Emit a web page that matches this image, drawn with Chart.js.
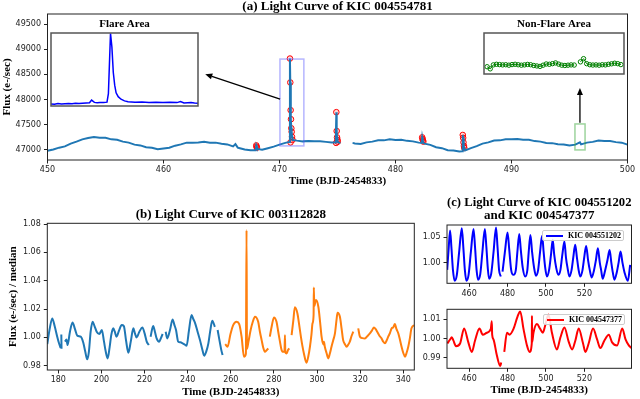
<!DOCTYPE html>
<html>
<head>
<meta charset="utf-8">
<script src="https://cdn.jsdelivr.net/npm/chart.js@4.4.1/dist/chart.umd.min.js"></script>
<style>
  body { margin: 0; background: #fff; }
  #wrap { position: relative; width: 640px; height: 399px; overflow: hidden; background: #fff; }
  canvas { position: absolute; }
  .legend {
    position: absolute; box-sizing: border-box; width: 82px; height: 11px;
    border: 1px solid #ccc; border-radius: 2px; background: rgba(255,255,255,0.85);
    font: bold 8px 'Liberation Serif', 'Times New Roman', serif; line-height: 9px;
    color: #000; white-space: nowrap; padding-left: 3px;
  }
  .legend .swatch { display: inline-block; width: 17px; height: 2px; vertical-align: middle; margin-right: 5px; margin-top: -1px; }
</style>
</head>
<body>
<div id="wrap">
  <canvas id="chartA" width="640" height="190" style="left:0;top:0"></canvas>
  <canvas id="flareInset" width="151" height="92" style="left:49px;top:16px"></canvas>
  <canvas id="quietInset" width="150" height="63" style="left:479px;top:16px"></canvas>
  <canvas id="chartB" width="420" height="209" style="left:0;top:190px"></canvas>
  <canvas id="chartC1" width="220" height="110" style="left:420px;top:190px"></canvas>
  <canvas id="chartC2" width="220" height="99" style="left:420px;top:300px"></canvas>
  <div class="legend" style="left:542px;top:230px"><span class="swatch" style="background:#0000ff"></span>KIC 004551202</div>
  <div class="legend" style="left:543px;top:314px"><span class="swatch" style="background:#ff0000"></span>KIC 004547377</div>
</div>
<script>
// ---- data: panel (a) KIC 004554781 ----
const timeA = [450.0, 450.5, 451.0, 451.5, 452.0, 452.5, 453.0, 453.5, 454.0, 454.5, 455.0, 455.5, 456.0, 456.5, 457.0, 457.5,
  458.0, 458.5, 459.0, 459.5, 460.0, 460.5, 461.0, 461.5, 462.0, 462.5, 463.0, 463.5, 464.0, 464.5, 465.0, 465.5,
  466.0, 466.2, 466.4, 466.5, 467.0, 467.5, 467.95, 468.0, 468.05, 468.1, 468.5, 469.0, 469.5, 470.0, 470.5,
  470.85, 470.9, 470.93, 470.96, 470.99, 471.02, 471.05, 471.08, 471.12, 471.5, 472.0, 472.5, 473.0, 473.5, 474.0, 474.5,
  474.85, 474.9, 474.93, 474.96, 475.0, 475.1, 475.25, 475.7, 476.3, 476.5, 477.0, 477.5, 478.0, 478.5, 479.0, 479.5,
  480.0, 480.5, 481.0, 481.5, 482.0, 482.25, 482.3, 482.33, 482.36, 482.4, 482.5, 483.0, 483.5, 484.0, 484.5, 485.0, 485.5,
  485.75, 485.8, 485.83, 485.86, 485.9, 485.95, 486.0, 486.5, 487.0, 487.5, 488.0, 488.5, 489.0, 489.5, 490.0, 490.5,
  491.0, 491.5, 492.0, 492.5, 493.0, 493.5, 494.0, 494.5, 495.0, 495.5, 495.9, 496.0, 496.5, 497.0, 497.5, 498.0, 498.5,
  499.0, 499.5, 500.0];
const fluxA = [46985, 47010, 47045, 47070, 47125, 47165, 47210, 47235, 47255, 47240, 47240, 47210, 47200, 47165, 47145, 47105,
  47090, 47055, 47045, 47015, 47030, 47045, 47085, 47110, 47145, 47145, 47150, 47160, 47145, 47145, 47125, 47110,
  47070, 47115, 47045, 47040, 47010, 46995, 46995, 47090, 47060, 47020, 47005, 47035, 47065, 47105, 47140,
  47160, 48815, 48340, 47790, 47610, 47430, 47360, 47260, 47200, 47185, 47170, 47175, 47170, 47170, 47160, 47150,
  47150, 47750, 47376, 47250, 47164, 47145, 47140, null, 47140, 47130, 47120, 47150, 47165, 47190, 47190, 47210,
  47195, 47200, 47180, 47170, 47145, 47140, 47250, 47220, 47190, 47145, 47125, 47100, 47055, 47035, 46995, 46990, 46970,
  46975, 47297, 47240, 47150, 47080, 47020, 46990, 47035, 47075, 47125, 47150, 47185, 47190, 47210, 47210, 47215,
  47200, 47200, 47175, 47165, 47140, 47135, 47115, 47110, 47090, 47105, 47150, 47110, 47145, 47160, 47185, 47175, 47175,
  47155, 47145, 47105];
// detected flare points (red circles)
const flareT = [468.0, 468.02, 468.05, 470.9, 470.93, 470.96, 470.99, 471.02, 471.05, 471.08, 471.12, 470.95,
  474.9, 474.93, 474.96, 475.0, 475.02, 474.88, 482.3, 482.33, 482.36, 482.4, 485.8, 485.83, 485.86, 485.9, 485.93];
const flareF = [47090, 47065, 47045, 48815, 48340, 47790, 47610, 47430, 47360, 47260, 47200, 47150,
  47750, 47376, 47250, 47200, 47164, 47140, 47250, 47220, 47190, 47165, 47297, 47240, 47150, 47080, 47040];
const xTicksA = [450, 460, 470, 480, 490, 500];
const yTicksA = [47000, 47500, 48000, 48500, 49000, 49500];

// inset: flare area
const insetFlareT = [470.0, 470.05, 470.1, 470.15, 470.2, 470.25, 470.3, 470.35, 470.4, 470.45, 470.5, 470.55, 470.58, 470.62,
  470.66, 470.7, 470.75, 470.8, 470.82, 470.85, 470.87, 470.89, 470.91, 470.93, 470.96, 471.0, 471.05, 471.1, 471.2, 471.3,
  471.4, 471.5, 471.6, 471.7, 471.8, 471.85, 471.9, 471.95, 472.0, 472.05, 472.1];
const insetFlareF = [47160, 47150, 47170, 47160, 47165, 47170, 47165, 47175, 47170, 47175, 47180, 47185, 47250, 47195,
  47185, 47190, 47190, 47200, 47400, 48820, 48500, 47900, 47600, 47420, 47330, 47270, 47230, 47210, 47200, 47205,
  47195, 47200, 47195, 47200, 47190, 47215, 47180, 47185, 47190, 47180, 47175];

// inset: non-flare area
const insetQuietT = [495.48, 495.50, 495.52, 495.54, 495.56, 495.58, 495.60, 495.62, 495.64, 495.66, 495.68, 495.70, 495.72,
  495.74, 495.76, 495.78, 495.80, 495.82, 495.84, 495.86, 495.88, 495.90, 495.92, 495.94, 495.96, 495.98, 496.00, 496.02,
  496.04, 496.06, 496.08, 496.10, 496.12, 496.14, 496.16, 496.18, 496.20, 496.22, 496.24, 496.26, 496.28, 496.30, 496.32, 496.34];
const insetQuietF = [47108, 47094, 47120, 47124, 47122, 47120, 47121, 47118, 47122, 47124, 47121, 47118, 47120,
  47123, 47121, 47116, 47113, 47110, 47118, 47126, 47124, 47128, 47133, 47125, 47118, 47116, 47118, 47120,
  47119, null, 47140, 47161, 47128, 47121, 47119, 47120, 47118, 47121, 47120, 47124, 47127, 47131, 47128, 47122];

// ---- data: panel (b) KIC 003112828 ----
const timeB1 = [174.9, 176.0, 177.2, 178.3, 179.5, 180.3, 181.1, 181.25, 181.4, 181.5, 181.8, 183.1, 183.8, 184.3, 185.4, 186.6,
  187.7, 188.8, 190.4, 191.6, 192.5, 193.4, 194.2, 195.0, 195.9, 196.8, 197.8, 199.0, 200.2, 201.2, 202.0, 202.9,
  203.8, 204.6, 205.5, 206.2, 207.0, 208.2, 209.4, 210.4, 211.4, 212.5, 213.6, 214.8, 215.5, 216.3, 217.6, 219.0,
  220.0, 221.0, 222.0, 222.4, 222.8, 224.0, 224.8, 225.6, 226.8, 227.6, 228.4, 229.1, 229.8, 230.5, 231.8, 233.0,
  233.8, 234.6, 235.6, 236.6, 237.7, 238.6, 239.5, 240.6, 241.8, 242.6, 243.4, 244.6, 245.7, 246.7, 247.7, 248.6,
  249.6, 250.5, 251.4, 252.6, 253.2, 253.9, 254.5, 255.0, 255.6, 256.2];
const fluxB1 = [0.9953, 1.006, 1.0134, 1.008, 1.0005, 0.996, 0.9925, null, 1.002, 0.992, null, 0.997, 0.9985, 0.9946, 1.004, 1.0106,
  1.006, 1.0012, 1.0005, 0.9962, 0.990, 0.9845, 0.990, 1.004, 1.011, 1.008, 1.004, 1.0024, 1.0052, 0.997, 0.990, 0.9852,
  0.993, 1.002, 1.0064, 1.004, 1.0005, 1.005, 1.0087, 1.008, 0.998, 0.9892, 0.997, 1.0064, 1.003, 1.000, 1.004, 1.007,
  1.003, 0.997, 0.9946, null, 1.0005, 1.008, 1.004, 0.9993, 0.997, 0.9995, 1.0024, null, 1.004, 0.9993, 1.0052, 1.0127,
  1.009, 1.0052, 0.997, 0.9965, 0.9958, 0.995, 0.9941, 1.005, 1.0158, 1.013, 1.0103, 1.004, 0.9981, 0.992, 0.9871, 0.990,
  0.9958, 1.005, 1.0118, 1.0075, null, 1.0052, 1.000, 0.9958, 0.991, 0.9875];
const timeB2 = [257.4, 258.5, 259.8, 261.1, 262.7, 263.9, 265.0, 266.1, 267.0, 267.3, 267.5, 268.2, 269.2, 270.2, 271.2, 272.7,
  273.5, 274.3, 275.0, 275.8, 276.6, 277.4, 277.8, 278.1, 279.0, 280.0, 281.2, 282.0, 282.8, 283.4, 284.0, 284.9,
  285.1, 285.3, 285.9, 286.5, 287.1, 287.6, 288.2, 289.0, 289.7, 290.9, 291.7, 292.5, 293.2, 293.9, 295.1, 296.0,
  296.7, 297.4, 297.9, 298.4, 298.5, 298.7, 299.5, 300.6, 301.4, 302.1, 302.9, 303.2, 303.6, 304.4, 305.2, 306.0,
  306.7, 307.5, 308.3, 309.0, 309.5, 310.6, 311.4, 312.1, 313.0, 313.7, 314.5, 315.2, 316.0, 316.8, 318.0, 319.1,
  319.9, 321.0, 322.2, 323.4, 324.5, 325.5, 326.4, 327.1, 327.9, 329.0, 329.9, 330.7, 331.5, 332.3, 333.0, 333.8,
  334.6, 335.3, 336.1, 336.8, 337.7, 338.5, 339.2, 340.0, 340.8, 341.5, 342.3, 343.0, 343.8, 345.1];
const fluxB2 = [0.9953, 0.9934, 1.002, 1.0087, 1.011, 1.0094, 1.0005, 0.9864, 0.9885, 1.0757, 0.992, 0.997, 1.0052, 1.011, 1.0146, 1.011,
  1.004, 0.9981, 0.993, 0.9899, 0.991, 0.9922, null, 1.0005, 1.008, 1.0141, 1.011, 1.004, 0.997, 0.992, 0.9899, 0.990,
  1.0016, 0.9895, 0.9887, 0.991, 0.9922, null, 1.0016, 1.012, 1.0212, 1.0169, 1.009, 1.0005, 0.994, 0.9887, 0.9821, 0.987,
  0.9934, 1.002, 1.0099, 1.016, 1.0352, 1.022, 1.0263, 1.0216, 1.011, 1.0005, 0.995, 0.997, 0.9934, 0.989, 0.9852, 0.989,
  0.9934, 0.998, 1.0028, 1.012, 1.0174, 1.0146, 1.006, 0.9981, 0.995, 0.9934, 0.995, 0.997, 1.001, 1.004, null, 1.0064,
  1.0005, 0.9995, 0.9993, 1.001, 1.0028, 1.005, 1.007, 1.006, 1.004, 1.001, 0.9993, 0.997, 0.9958, 0.998, 1.0005, 1.003,
  1.0064, 1.007, 1.0094, 1.006, 1.0028, 0.998, 0.9934, 0.989, 0.9864, 0.989, 0.9934, 0.999, 1.0064, 1.0087];
const xTicksB = [180, 200, 220, 240, 260, 280, 300, 320, 340];
const yTicksB = [0.98, 1.00, 1.02, 1.04, 1.06, 1.08];

// ---- data: panel (c) KIC 004551202 / KIC 004547377 ----
const timeC1 = [448.6, 449.4, 450.1, 450.8, 451.6, 452.5, 453.6, 454.8, 456.2, 457.0, 457.8, 458.6, 459.7, 460.9, 462.3, 463.1,
  463.9, 464.7, 465.8, 466.9, 468.2, 469.0, 469.7, 470.4, 471.5, 472.7, 474.0, 474.8, 475.6, 476.5, 477.0, 477.4,
  478.6, 480.0, 480.9, 481.9, 483.1, 484.3, 485.1, 486.1, 486.9, 487.9, 489.2, 490.3, 491.0, 491.9, 492.8, 493.8,
  494.8, 495.9, 496.9, 498.0, 498.8, 499.6, 500.5, 501.6, 502.6, 503.5, 504.3, 505.3, 506.4, 507.5, 508.5, 509.6,
  510.4, 511.2, 512.2, 513.3, 514.2, 515.2, 516.1, 517.0, 517.9, 519.0, 519.9, 520.9, 521.9, 522.8, 523.8, 525.0,
  526.0, 527.0, 528.0, 528.7, 529.5, 530.8, 532.0, 533.1, 534.0, 534.8, 535.6, 536.8, 537.8, 538.8, 539.8, 540.9,
  542.6, 543.8];
const fluxC1 = [0.9856, 1.030, 1.0632, 1.030, 0.985, 0.9638, 0.975, 1.020, 1.068, 1.030, 0.985, 0.9638, 0.975, 1.020, 1.0666, 1.030,
  0.985, 0.9658, 0.977, 1.020, 1.0666, 1.030, 0.990, 0.968, 0.978, 1.020, 1.0692, 1.030, 0.985, 0.9724, null, 0.982,
  1.020, 1.0593, 1.025, 0.985, 0.9757, 0.985, 1.020, 1.0567, 1.025, 0.990, 0.9724, 0.985, 1.020, 1.0547, 1.020, 0.990,
  0.974, 0.985, 1.020, 1.0528, 1.020, 0.990, 0.9724, 0.985, 1.015, 1.0449, 1.015, 0.990, 0.9757, 0.985, 1.015, 1.0415,
  1.010, 0.990, 0.9724, 0.985, 1.010, 1.035, 1.010, 0.985, 0.9724, 0.985, 1.010, 1.033, 1.005, 0.985, 0.9705, 0.985,
  1.005, 1.0284, 1.000, 0.985, 0.968, 0.985, 1.005, 1.025, 1.000, 0.980, 0.966, 0.980, 1.000, 1.0218, 1.000, 0.980,
  0.9638, 0.9955];
const timeC2 = [448.7, 450.1, 451.0, 451.8, 453.2, 455.3, 457.4, 459.6, 461.4, 463.1, 465.4, 467.1, 469.2, 471.3, 471.8, 472.0,
  472.7, 474.4, 476.2, 476.7, 477.5, 478.3, 479.7, 481.0, 483.1, 485.2, 486.6, 488.3, 490.1, 491.5, 492.6, 492.7, 492.8,
  493.5, 495.3, 497.0, 498.4, 499.6, 501.3, 503.1, 505.7, 507.5, 509.6, 511.8, 513.6, 515.3, 517.0, 519.3, 520.5, 522.2,
  524.5, 526.6, 528.3, 530.4, 532.7, 534.4, 537.0, 539.7, 541.4, 543.1, 544.5];
const fluxC2 = [0.9974, 0.9995, 1.0006, 0.999, 0.996, 0.9974, 1.0052, 0.998, 0.993, 0.999, 1.0052, 1.002, 1.003, 1.005, 1.009, 1.002,
  0.9995, 0.9914, 0.9857, 0.9875, null, 0.993, 1.003, 1.002, 1.005, 1.0114, 1.0141, 1.005, 0.9964, 0.993, 0.9974, 1.0119, 0.998,
  1.003, 1.0075, 1.005, 1.003, 1.0068, 1.0125, 1.003, 0.9943, 1.0005, 1.0057, 0.9984, 0.9943, 0.999, 1.0052, 0.9974, 0.993, 0.9974,
  1.0052, 0.9995, 0.995, 0.999, 1.002, 0.998, 0.9964, 1.0052, 0.9995, 0.9964, 0.995];
const xTicksC = [460, 480, 500, 520];
const yTicksC1 = [1.00, 1.05];
const yTicksC2 = [0.99, 1.00, 1.01];

// ---- shared styling ----
Chart.defaults.font.family = "'DejaVu Sans', sans-serif";
Chart.defaults.color = '#222';
Chart.defaults.animation = false;

const SERIF = "'Liberation Serif', 'Times New Roman', serif";
const tickFont = { family: "'DejaVu Sans', sans-serif", size: 8 };
const xyPairs = (xs, ys) => xs.map((x, i) => ({ x: x, y: ys[i] }));

// matplotlib-like box around the axes
const frame = {
  id: 'frame',
  afterDraw(chart) {
    const { ctx, chartArea: a } = chart;
    ctx.save();
    ctx.strokeStyle = chart.options.frameColor || '#222';
    ctx.lineWidth = chart.options.frameWidth || 1;
    ctx.strokeRect(a.left, a.top, a.right - a.left, a.bottom - a.top);
    ctx.restore();
  }
};

const whiteArea = {
  id: 'whiteArea',
  beforeDraw(chart) {
    const { ctx, chartArea: a } = chart;
    ctx.save();
    ctx.fillStyle = '#fff';
    ctx.fillRect(a.left, a.top, a.right - a.left, a.bottom - a.top);
    ctx.restore();
  }
};

function xScale(min, max, ticks, height, title, titlePadBottom) {
  return {
    type: 'linear', min: min, max: max,
    afterFit: s => { s.height = height; },
    afterBuildTicks: s => { s.ticks = ticks.map(v => ({ value: v })); },
    ticks: { font: tickFont, color: '#222', padding: 2, autoSkip: false, maxRotation: 0 },
    grid: { drawOnChartArea: false, tickLength: 3.5, color: '#222' },
    border: { display: false },
    title: {
      display: !!title, text: title, color: '#000',
      font: { family: SERIF, size: 11, weight: 'bold', lineHeight: 1.2 },
      padding: { top: 0, bottom: titlePadBottom }
    }
  };
}

function yScale(min, max, ticks, width, digits, title, titlePadTop) {
  return {
    type: 'linear', min: min, max: max,
    afterFit: s => { s.width = width; },
    afterBuildTicks: s => { s.ticks = ticks.map(v => ({ value: v })); },
    ticks: { font: tickFont, color: '#222', padding: 3, callback: v => v.toFixed(digits) },
    grid: { drawOnChartArea: false, tickLength: 3.5, color: '#222' },
    border: { display: false },
    title: {
      display: !!title, text: title, color: '#000',
      font: { family: SERIF, size: 11, weight: 'bold', lineHeight: 1.2 },
      padding: { top: titlePadTop || 0, bottom: 0 }
    }
  };
}

function plotTitle(text, padTop, padBottom) {
  return {
    display: true, text: text, color: '#000', fullSize: false,
    font: { family: SERIF, size: 13, weight: 'bold', lineHeight: 1 },
    padding: { top: padTop, bottom: padBottom }
  };
}

// highlight boxes and arrows on panel (a)
const markupA = {
  id: 'markupA',
  afterDatasetsDraw(chart) {
    const { ctx, scales: { x, y } } = chart;
    const box = (t0, t1, f0, f1, color) => {
      ctx.strokeStyle = color;
      ctx.lineWidth = 1.5;
      ctx.strokeRect(x.getPixelForValue(t0), y.getPixelForValue(f1),
        x.getPixelForValue(t1) - x.getPixelForValue(t0), y.getPixelForValue(f0) - y.getPixelForValue(f1));
    };
    const arrow = (t0, f0, t1, f1) => {
      const x0 = x.getPixelForValue(t0), y0 = y.getPixelForValue(f0);
      const x1 = x.getPixelForValue(t1), y1 = y.getPixelForValue(f1);
      const ang = Math.atan2(y1 - y0, x1 - x0);
      const len = 7, half = 3;
      const bx = x1 - len * Math.cos(ang), by = y1 - len * Math.sin(ang);
      ctx.strokeStyle = '#000';
      ctx.fillStyle = '#000';
      ctx.lineWidth = 1.3;
      ctx.beginPath();
      ctx.moveTo(x0, y0);
      ctx.lineTo(bx, by);
      ctx.stroke();
      ctx.beginPath();
      ctx.moveTo(x1, y1);
      ctx.lineTo(bx + half * Math.sin(ang), by - half * Math.cos(ang));
      ctx.lineTo(bx - half * Math.sin(ang), by + half * Math.cos(ang));
      ctx.closePath();
      ctx.fill();
    };
    ctx.save();
    box(470.04, 472.1, 47080, 48805, 'rgba(90, 90, 255, 0.45)');
    box(495.47, 496.34, 47000, 47516, 'rgba(60, 170, 60, 0.5)');
    arrow(470.05, 48010, 463.6, 48505);
    arrow(495.9, 47540, 495.9, 48230);
    ctx.restore();
  }
};

// ---- panel (a) ----
new Chart(document.getElementById('chartA'), {
  type: 'line',
  data: {
    datasets: [
      {
        data: xyPairs(timeA, fluxA),
        borderColor: '#1f77b4', borderWidth: 2, pointRadius: 0, tension: 0, spanGaps: false
      },
      {
        data: xyPairs(flareT, flareF),
        showLine: false, pointRadius: 2.8, pointBorderWidth: 1,
        pointBorderColor: '#ff0000', pointBackgroundColor: 'rgba(255, 0, 0, 0.15)'
      }
    ]
  },
  options: {
    responsive: false, devicePixelRatio: 1,
    layout: { padding: { top: 0, left: 0, right: 12.5, bottom: 0 } },
    plugins: {
      legend: { display: false }, tooltip: { enabled: false },
      title: plotTitle('(a) Light Curve of KIC 004554781', 0, 1)
    },
    scales: {
      x: xScale(450, 500, xTicksA, 30, 'Time (BJD-2454833)', 2.4),
      y: yScale(46800, 49700, yTicksA, 47.5, 0, 'Flux (e-/sec)', 1)
    }
  },
  plugins: [frame, markupA]
});

// inset: flare area
new Chart(document.getElementById('flareInset'), {
  type: 'line',
  data: { datasets: [{ data: xyPairs(insetFlareT, insetFlareF), borderColor: '#0000ff', borderWidth: 1.5, pointRadius: 0, tension: 0 }] },
  options: {
    responsive: false, devicePixelRatio: 1,
    frameColor: '#555', frameWidth: 1.5,
    layout: { padding: { top: 0, left: 2, right: 2, bottom: 2 } },
    plugins: { legend: { display: false }, tooltip: { enabled: false }, title: {
      display: true, text: 'Flare Area', color: '#000',
      font: { family: SERIF, size: 11, weight: 'bold', lineHeight: 1 }, padding: { top: 2.5, bottom: 3.5 } } },
    scales: {
      x: { type: 'linear', display: false, min: 470.0, max: 472.1 },
      y: { display: false, min: 47110, max: 48830 }
    }
  },
  plugins: [whiteArea, frame]
});

// inset: non-flare area
new Chart(document.getElementById('quietInset'), {
  type: 'line',
  data: { datasets: [{
    data: xyPairs(insetQuietT, insetQuietF), borderColor: '#008000', borderWidth: 1, tension: 0, spanGaps: false,
    pointRadius: 2.2, pointBorderWidth: 1, pointBorderColor: '#008000', pointBackgroundColor: 'rgba(255,255,255,0)'
  }] },
  options: {
    responsive: false, devicePixelRatio: 1,
    frameColor: '#555', frameWidth: 1.5,
    layout: { padding: { top: 0, left: 2, right: 2, bottom: 2 } },
    plugins: { legend: { display: false }, tooltip: { enabled: false }, title: {
      display: true, text: 'Non-Flare Area', color: '#000',
      font: { family: SERIF, size: 11, weight: 'bold', lineHeight: 1 }, padding: { top: 2.5, bottom: 3.5 } } },
    scales: {
      x: { type: 'linear', display: false, min: 495.46, max: 496.36 },
      y: { display: false, min: 47060, max: 47330 }
    }
  },
  plugins: [whiteArea, frame]
});

// ---- panel (b) ----
new Chart(document.getElementById('chartB'), {
  type: 'line',
  data: {
    datasets: [
      { data: xyPairs(timeB1, fluxB1), borderColor: '#1f77b4', borderWidth: 2, pointRadius: 0, cubicInterpolationMode: 'monotone', spanGaps: false },
      { data: xyPairs(timeB2, fluxB2), borderColor: '#ff7f0e', borderWidth: 2, pointRadius: 0, cubicInterpolationMode: 'monotone', spanGaps: false }
    ]
  },
  options: {
    responsive: false, devicePixelRatio: 1,
    layout: { padding: { top: 18.5, left: 0, right: 5.7, bottom: 0 } },
    plugins: {
      legend: { display: false }, tooltip: { enabled: false },
      title: plotTitle('(b) Light Curve of KIC 003112828', 0, 1.8)
    },
    scales: {
      x: xScale(174.9, 345.1, xTicksB, 29, 'Time (BJD-2454833)', 0.4),
      y: yScale(0.977, 1.0805, yTicksB, 47.3, 2, 'Flux (e-/sec) / median', 6.7)
    }
  },
  plugins: [frame]
});

// ---- panel (c), upper ----
new Chart(document.getElementById('chartC1'), {
  type: 'line',
  data: { datasets: [{ data: xyPairs(timeC1, fluxC1), borderColor: '#0000ff', borderWidth: 2, pointRadius: 0, cubicInterpolationMode: 'monotone', spanGaps: false }] },
  options: {
    responsive: false, devicePixelRatio: 1,
    layout: { padding: { top: 0, left: 0, right: 8.5, bottom: 0 } },
    plugins: {
      legend: { display: false }, tooltip: { enabled: false },
      title: plotTitle(['(c) Light Curve of KIC 004551202', 'and KIC 004547377'], 6.5, 2.5)
    },
    scales: {
      x: xScale(448.5, 544.5, xTicksC, 16.7, '', 0),
      y: yScale(0.959, 1.0743, yTicksC1, 27, 2, '', 0)
    }
  },
  plugins: [frame]
});

// ---- panel (c), lower ----
new Chart(document.getElementById('chartC2'), {
  type: 'line',
  data: { datasets: [{ data: xyPairs(timeC2, fluxC2), borderColor: '#ff0000', borderWidth: 2, pointRadius: 0, cubicInterpolationMode: 'monotone', spanGaps: false }] },
  options: {
    responsive: false, devicePixelRatio: 1,
    layout: { padding: { top: 9.3, left: 0, right: 8.5, bottom: 0 } },
    plugins: { legend: { display: false }, tooltip: { enabled: false } },
    scales: {
      x: xScale(448.5, 544.5, xTicksC, 30.7, 'Time (BJD-2454833)', 2.4),
      y: yScale(0.9845, 1.0152, yTicksC2, 27, 2, '', 0)
    }
  },
  plugins: [frame]
});
</script>
</body>
</html>
